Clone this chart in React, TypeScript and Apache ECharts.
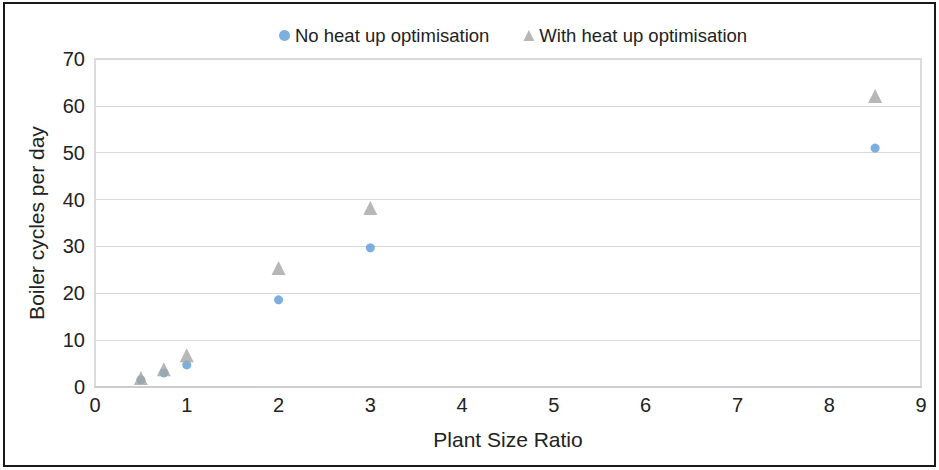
import React, { useEffect, useRef } from "react";
import * as echarts from "echarts";

const seriesNames = ["No heat up optimisation", "With heat up optimisation"];
const plantSizeRatio = [0.5, 0.75, 1, 2, 3, 8.5];
const noHeatUp = [1.5, 3.0, 4.7, 18.6, 29.7, 51.0];
const withHeatUp = [1.9, 3.8, 6.8, 25.4, 38.2, 62.1];
const xTicks = [0, 1, 2, 3, 4, 5, 6, 7, 8, 9];
const yTicks = [0, 10, 20, 30, 40, 50, 60, 70];

const FONT = "Liberation Sans";

export default function App() {
  const ref = useRef<HTMLDivElement>(null);
  useEffect(() => {
    if (!ref.current) return;
    const chart = echarts.init(ref.current, null, { renderer: "svg" });
    chart.setOption({
      animation: false,
      backgroundColor: "#ffffff",
      textStyle: { fontFamily: FONT },
      graphic: [
        {
          type: "rect",
          shape: { x: 4, y: 3, width: 931, height: 463 },
          style: { fill: "none", stroke: "#1a1a1a", lineWidth: 2 },
          silent: true,
        },
      ],
      legend: {
        top: 21,
        left: 274,
        itemGap: 34,
        itemWidth: 11,
        itemHeight: 11,
        textStyle: { fontFamily: FONT, fontSize: 18.5, color: "#222" },
        data: [
          { name: seriesNames[0], icon: "circle", itemStyle: { color: "#5b9bd5" } },
          { name: seriesNames[1], icon: "triangle", itemStyle: { color: "#a5a5a5" } },
        ],
      },
      grid: {
        left: 95,
        right: 18,
        top: 59,
        bottom: 83,
        containLabel: false,
        show: true,
        borderColor: "#cfcfcf",
        borderWidth: 1.5,
      },
      xAxis: {
        type: "value",
        min: xTicks[0],
        max: xTicks[xTicks.length - 1],
        interval: 1,
        name: "Plant Size Ratio",
        nameLocation: "middle",
        nameGap: 42,
        nameTextStyle: { fontFamily: FONT, fontSize: 21, color: "#222" },
        axisLine: { show: true, lineStyle: { color: "#c8c8c8", width: 1.5 } },
        axisTick: { show: false },
        axisLabel: { fontFamily: FONT, fontSize: 20, color: "#222", margin: 8 },
        splitLine: { show: false },
      },
      yAxis: {
        type: "value",
        min: yTicks[0],
        max: yTicks[yTicks.length - 1],
        interval: 10,
        name: "Boiler cycles per day",
        nameLocation: "middle",
        nameGap: 48,
        nameTextStyle: { fontFamily: FONT, fontSize: 21, color: "#222" },
        axisLine: { show: false },
        axisTick: { show: false },
        axisLabel: { fontFamily: FONT, fontSize: 20, color: "#222", margin: 10 },
        splitLine: { show: true, lineStyle: { color: "#d9d9d9", width: 1.2 } },
      },
      series: [
        {
          name: seriesNames[0],
          type: "scatter",
          symbol: "circle",
          symbolSize: 9,
          itemStyle: { color: "#5b9bd5" },
          data: plantSizeRatio.map((x, i) => [x, noHeatUp[i]]),
          z: 2,
        },
        {
          name: seriesNames[1],
          type: "scatter",
          symbol: "triangle",
          symbolSize: [14, 14],
          itemStyle: { color: "#a5a5a5" },
          data: plantSizeRatio.map((x, i) => [x, withHeatUp[i]]),
          z: 3,
        },
      ],
    });
    return () => chart.dispose();
  }, []);
  return (
    <div
      ref={ref}
      style={{ position: "fixed", left: 0, top: 0, width: 939, height: 470 }}
    />
  );
}
